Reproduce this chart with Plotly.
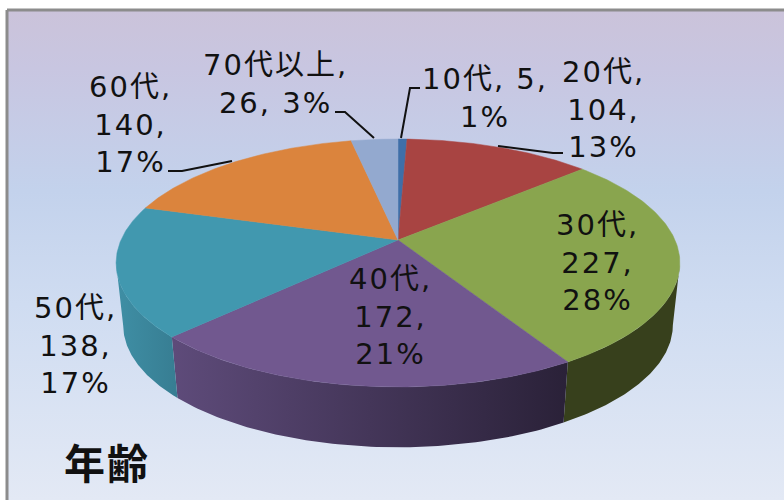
import math
import numpy as np
import plotly.graph_objects as go

# ---- data ----
categories = ["10代", "20代", "30代", "40代", "50代", "60代", "70代以上"]
counts = [5, 104, 227, 172, 138, 140, 26]
title_text = "年齢"

# ---- style ----
top_colors = ["#3f6fa8", "#a84442", "#89a54e", "#71588f", "#4198af", "#db843d", "#93a9cf"]
wall_colors = [
    ("#37401c", "#37401c"), ("#37401c", "#37401c"), ("#37401c", "#37401c"),
    ("#5e4b7a", "#2a2138"), ("#3f8fa5", "#377d92"),
    ("#3f8fa5", "#377d92"), ("#3f8fa5", "#377d92"),
]
# how each label is broken over lines, label centre x and middle y
label_breaks = ["{c}, {v},<br>{p}%", "{c},<br>{v},<br>{p}%", "{c},<br>{v},<br>{p}%",
                "{c},<br>{v},<br>{p}%", "{c},<br>{v},<br>{p}%", "{c},<br>{v},<br>{p}%",
                "{c},<br>{v}, {p}%"]
label_pos = [(485, 98), (603, 109), (597, 262), (390, 316), (75, 345), (130, 124), (275, 84)]
leaders = [
    [(420, 88), (410, 88), (401, 138)],
    [(498, 146), (553, 153), (563, 153)],
    None, None, None,
    [(168, 171), (182, 171), (232, 161)],
    [(335, 112), (345, 112), (374, 138)],
]

# perspective pie geometry (screen pixels)
CX, CY, CY2 = 398, 240, 302.5
A, B, K = 119.7, 277, 0.1855
LOWER_X, LOWER_Y = 0.975, 0.985
SIL = math.degrees(math.acos(-K))  # silhouette angle of the side wall


def project(theta_deg, lower=False):
    t = np.radians(theta_deg)
    u, v = np.sin(t), -np.cos(t)
    d = 1 - K * v
    if lower:
        return CX + LOWER_X * B * u / d, CY2 + LOWER_Y * A * v / d
    return CX + B * u / d, CY + A * v / d


fig = go.Figure()

# background panel with vertical gradient and frame
fig.add_trace(go.Scatter(
    x=[7, 790, 790, 7, 7], y=[10, 10, 510, 510, 10], mode="lines", fill="toself",
    line=dict(width=3, color="#8c8c8c"), hoverinfo="skip",
    fillgradient=dict(type="vertical", start=10, stop=500, colorscale=[
        [0, "#cbc3da"], [0.12, "#c8c6e1"], [0.37, "#c3d2ec"], [0.6, "#cfdcf1"], [1, "#e3e9f5"]]),
))

total = sum(counts)
edges = np.concatenate([[0], np.cumsum(counts)]) / total * 360

# side walls (front half only), then top faces
for i in range(len(counts)):
    a, b = max(edges[i], SIL), min(edges[i + 1], 360 - SIL)
    if b <= a:
        continue
    th = np.linspace(a, b, 80)
    x1, y1 = project(th)
    x2, y2 = project(th[::-1], lower=True)
    xs = np.concatenate([x1, x2, x1[:1]])
    ys = np.concatenate([y1, y2, y1[:1]])
    c = wall_colors[i]
    fig.add_trace(go.Scatter(
        x=xs, y=ys, mode="lines", fill="toself", line=dict(width=0), hoverinfo="skip",
        fillgradient=dict(type="horizontal", start=float(xs.max()), stop=float(xs.min()),
                          colorscale=[[0, c[1]], [1, c[0]]]),
    ))

for i, (cat, val) in enumerate(zip(categories, counts)):
    th = np.linspace(edges[i], edges[i + 1], 120)
    x, y = project(th)
    fig.add_trace(go.Scatter(
        x=np.concatenate([[CX], x, [CX]]), y=np.concatenate([[CY], y, [CY]]),
        mode="lines", fill="toself", fillcolor=top_colors[i],
        line=dict(width=0.5, color=top_colors[i]), name=cat,
        hovertemplate=f"{cat}: {val}<extra></extra>",
    ))

# leader lines
for pts in leaders:
    if pts:
        fig.add_trace(go.Scatter(x=[p[0] for p in pts], y=[p[1] for p in pts], mode="lines",
                                 line=dict(color="#111111", width=2), hoverinfo="skip"))

# data labels
for i, (cat, val) in enumerate(zip(categories, counts)):
    pct = round(val / total * 100)
    fig.add_annotation(
        x=label_pos[i][0], y=label_pos[i][1], xref="x", yref="y", showarrow=False,
        text=label_breaks[i].format(c=cat, v=val, p=pct), align="center",
        font=dict(family="DejaVu Sans, Noto Sans CJK JP", size=29, color="#111111"),
    )

fig.add_annotation(x=107, y=461, xref="x", yref="y", showarrow=False, text=title_text,
                   font=dict(family="Noto Sans CJK JP", size=41, color="#111111", weight="bold"))

fig.update_layout(
    width=784, height=500, margin=dict(l=0, r=0, t=0, b=0),
    paper_bgcolor="white", plot_bgcolor="white", showlegend=False,
    xaxis=dict(range=[0, 784], visible=False, fixedrange=True),
    yaxis=dict(range=[500, 0], visible=False, fixedrange=True),
)
post = """
document.body.style.margin = '0';
document.body.style.overflow = 'hidden';
document.querySelectorAll('.annotation-text').forEach(function (t) {
    t.style.letterSpacing = '2px';
});
"""
fig.write_html("out.html", post_script=post, config={"displayModeBar": False})
